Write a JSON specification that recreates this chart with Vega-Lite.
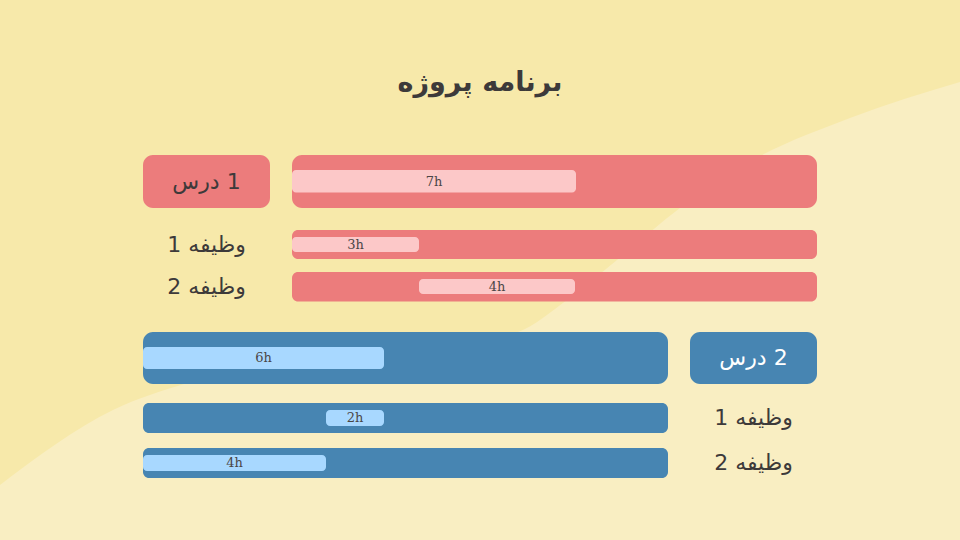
{
  "$schema": "https://vega.github.io/schema/vega-lite/v6.json",
  "width": 960,
  "height": 540,
  "autosize": {"type": "fit", "contains": "padding"},
  "padding": 0,
  "background": "#F7E9AA",
  "config": {"view": {"stroke": null}},
  "title": {
    "text": "برنامه پروژه",
    "font": "DejaVu Sans",
    "fontSize": 27,
    "fontWeight": "bold",
    "color": "#3D3A3A",
    "anchor": "middle",
    "frame": "group",
    "baseline": "middle",
    "offset": -110
  },
  "datasets": {
    "curve": [
      {"x": -7.3, "y": 48.5},
      {"x": -4.475, "y": 41.0},
      {"x": -2.625, "y": 38.3},
      {"x": -0.8, "y": 36.4},
      {"x": 1.7, "y": 35.2},
      {"x": 4.2, "y": 34.2},
      {"x": 5.65, "y": 33.2},
      {"x": 6.875, "y": 30.0},
      {"x": 8.125, "y": 26.0},
      {"x": 9.7, "y": 20.8},
      {"x": 11.525, "y": 16.0},
      {"x": 13.95, "y": 11.8},
      {"x": 16.7, "y": 8.2}
    ],
    "plan": [
      {"section": "درس 1", "kind": "header", "name": "درس\u200e 1", "label_start": -3.725, "label_end": -0.55, "track_start": 0, "track_end": 13.125, "start": 0, "end": 7.1, "hours": "7h", "top": 15.5, "bottom": 20.8, "in_top": 17.0, "in_bottom": 19.25},
      {"section": "درس 1", "kind": "task", "name": "وظیفه 1", "label_start": -3.725, "label_end": -0.55, "track_start": 0, "track_end": 13.125, "start": 0, "end": 3.175, "hours": "3h", "top": 23.0, "bottom": 25.9, "in_top": 23.7, "in_bottom": 25.2},
      {"section": "درس 1", "kind": "task", "name": "وظیفه 2", "label_start": -3.725, "label_end": -0.55, "track_start": 0, "track_end": 13.125, "start": 3.175, "end": 7.075, "hours": "4h", "top": 27.2, "bottom": 30.15, "in_top": 27.9, "in_bottom": 29.4},
      {"section": "درس 2", "kind": "header", "name": "درس\u200e 2", "label_start": 9.95, "label_end": 13.125, "track_start": -3.725, "track_end": 9.4, "start": -3.725, "end": 2.3, "hours": "6h", "top": 33.2, "bottom": 38.4, "in_top": 34.7, "in_bottom": 36.9},
      {"section": "درس 2", "kind": "task", "name": "وظیفه 1", "label_start": 9.95, "label_end": 13.125, "track_start": -3.725, "track_end": 9.4, "start": 0.85, "end": 2.3, "hours": "2h", "top": 40.3, "bottom": 43.3, "in_top": 41.0, "in_bottom": 42.6},
      {"section": "درس 2", "kind": "task", "name": "وظیفه 2", "label_start": 9.95, "label_end": 13.125, "track_start": -3.725, "track_end": 9.4, "start": -3.725, "end": 0.85, "hours": "4h", "top": 44.8, "bottom": 47.8, "in_top": 45.5, "in_bottom": 47.1}
    ]
  },
  "encoding": {
    "x": {"type": "quantitative", "scale": {"domain": [-7.3, 16.7], "nice": false, "zero": false}, "axis": null},
    "y": {"type": "quantitative", "scale": {"domain": [0, 54], "nice": false, "zero": false, "reverse": true}, "axis": null}
  },
  "layer": [
    {
      "data": {"name": "curve"},
      "mark": {"type": "area", "interpolate": "monotone", "color": "#F9EEC2", "clip": true},
      "encoding": {
        "x": {"field": "x", "type": "quantitative"},
        "y": {"field": "y", "type": "quantitative"},
        "y2": {"datum": 54}
      }
    },
    {
      "data": {"name": "plan"},
      "transform": [
        {"calculate": "(datum.start + datum.end) / 2", "as": "bar_mid"},
        {"calculate": "(datum.label_start + datum.label_end) / 2", "as": "label_mid"},
        {"calculate": "(datum.top + datum.bottom) / 2", "as": "row_mid"}
      ],
      "layer": [
        {
          "transform": [{"filter": "datum.kind == 'header'"}],
          "mark": {"type": "rect", "cornerRadius": 10},
          "encoding": {
            "x": {"field": "track_start", "type": "quantitative"},
            "x2": {"field": "track_end"},
            "y": {"field": "top", "type": "quantitative"},
            "y2": {"field": "bottom"},
            "color": {"field": "section", "type": "nominal", "scale": {"domain": ["درس 1", "درس 2"], "range": ["#EC7C7C", "#4785B2"]}, "legend": null}
          }
        },
        {
          "transform": [{"filter": "datum.kind == 'header'"}],
          "mark": {"type": "rect", "cornerRadius": 10},
          "encoding": {
            "x": {"field": "label_start", "type": "quantitative"},
            "x2": {"field": "label_end"},
            "y": {"field": "top", "type": "quantitative"},
            "y2": {"field": "bottom"},
            "color": {"field": "section", "type": "nominal", "scale": {"domain": ["درس 1", "درس 2"], "range": ["#EC7C7C", "#4785B2"]}, "legend": null}
          }
        },
        {
          "transform": [{"filter": "datum.kind == 'task'"}],
          "mark": {"type": "rect", "cornerRadius": 6},
          "encoding": {
            "x": {"field": "track_start", "type": "quantitative"},
            "x2": {"field": "track_end"},
            "y": {"field": "top", "type": "quantitative"},
            "y2": {"field": "bottom"},
            "color": {"field": "section", "type": "nominal", "scale": {"domain": ["درس 1", "درس 2"], "range": ["#EC7C7C", "#4785B2"]}, "legend": null}
          }
        },
        {
          "mark": {"type": "rect", "cornerRadius": 4},
          "encoding": {
            "x": {"field": "start", "type": "quantitative"},
            "x2": {"field": "end"},
            "y": {"field": "in_top", "type": "quantitative"},
            "y2": {"field": "in_bottom"},
            "color": {"field": "section", "type": "nominal", "scale": {"domain": ["درس 1", "درس 2"], "range": ["#FCC8C8", "#A8D8FF"]}, "legend": null}
          }
        },
        {
          "mark": {"type": "text", "font": "DejaVu Serif", "fontSize": 13, "color": "#4A4646", "align": "center", "baseline": "middle"},
          "encoding": {
            "x": {"field": "bar_mid", "type": "quantitative"},
            "y": {"field": "row_mid", "type": "quantitative"},
            "text": {"field": "hours"}
          }
        },
        {
          "transform": [{"filter": "datum.kind == 'header'"}],
          "mark": {"type": "text", "font": "DejaVu Sans", "fontSize": 22, "align": "center", "baseline": "middle"},
          "encoding": {
            "x": {"field": "label_mid", "type": "quantitative"},
            "y": {"field": "row_mid", "type": "quantitative"},
            "text": {"field": "name"},
            "color": {"field": "section", "type": "nominal", "scale": {"domain": ["درس 1", "درس 2"], "range": ["#3D3A3A", "#FFFFFF"]}, "legend": null}
          }
        },
        {
          "transform": [{"filter": "datum.kind == 'task'"}],
          "mark": {"type": "text", "font": "DejaVu Sans", "fontSize": 22, "align": "center", "baseline": "middle", "color": "#3D3A3A"},
          "encoding": {
            "x": {"field": "label_mid", "type": "quantitative"},
            "y": {"field": "row_mid", "type": "quantitative"},
            "text": {"field": "name"}
          }
        }
      ],
      "resolve": {"scale": {"color": "independent"}}
    }
  ],
  "resolve": {"scale": {"color": "independent"}}
}
